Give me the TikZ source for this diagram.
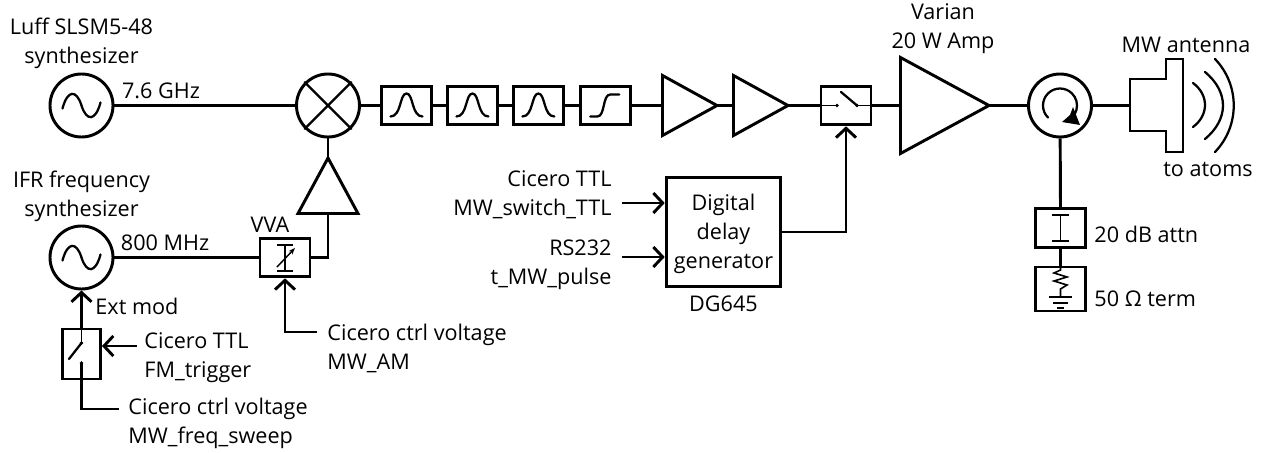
\documentclass[tikz,border=0pt]{standalone}
\usepackage{fontspec}
\setmainfont{Open Sans}
\usetikzlibrary{positioning,arrows.meta}
\newcommand{\lblfont}{\fontsize{16.2}{21.75}\selectfont}
\begin{document}
\begin{tikzpicture}[x=0.75pt, y=-0.75pt, font=\lblfont, line width=2.2pt,
    feed/.style={draw=black, line width=2.2pt},
    sig/.style={feed, -{Straight Barb[length=7pt,width=15pt]}},
    icon/.style={line width=1.7pt, line cap=round},
    hair/.style={line width=0.8pt},
    round1/.style={draw, circle, line width=2.2pt, minimum size=47.25pt, inner sep=0pt},
    filt/.style={draw, line width=2.2pt, minimum width=37.5pt, minimum height=29pt, inner sep=0pt},
    lbl/.style={align=center, inner sep=0pt},
    lbll/.style={align=left, inner sep=0pt, anchor=west},
    lblr/.style={align=right, inner sep=0pt, anchor=east}]
    \useasboundingbox (0,0) rectangle (1261,453);
    % sources and mixer
    \node[round1] (lo) at (81.5,105.5) {};
    \node[round1] (mix) at (328,105.5) {};
    \node[round1] (ifr) at (81.5,257.5) {};
    \draw[icon] (mix.45) -- (mix.225) (mix.135) -- (mix.315);
    \foreach \s in {lo,ifr}
      \draw[icon, shift={(\s)}] (-19,3) .. controls (-14,-16) and (-5,-16) .. (0,0) .. controls (5,16) and (14,16) .. (19,-3);
    % filter chain
    \node[filt] (fA) at (406.5,105.5) {};
    \node[filt, right=9.75pt of fA] (fB) {};
    \node[filt, right=9.75pt of fB] (fC) {};
    \node[filt, right=10.5pt of fC] (fD) {};
    \foreach \f in {fA,fB,fC}
      \draw[icon, shift={(\f)}] (-16,11) .. controls (-5,11) and (-7,-12) .. (0,-12) .. controls (7,-12) and (5,11) .. (16,11);
    \draw[icon, shift={(fD)}] (-15,11) -- (-8,11) .. controls (0,11) and (-3,-11) .. (5,-11) -- (14,-11);
    % amplifiers
    \foreach \a/\x/\l/\h in {ampA/662.5/54.5/30, ampB/733.5/54.5/30, ampC/900.5/88.5/48} {
      \coordinate (\a in) at (\x,105.5);
      \coordinate (\a out) at (\x+\l,105.5);
      \draw[feed, line join=miter] (\x,105.5-\h) -- (\a out) -- (\x,105.5+\h) -- cycle;
    }
    \coordinate (ampDin) at (328,213.5);
    \coordinate (ampDout) at (328,158);
    \draw[feed, line join=miter] (298,213.5) -- (ampDout) -- (358,213.5) -- cycle;
    % switch and VVA
    \node[filt] (swMW) at (846,105.5) {};
    \draw[hair] (swMW.west) -- (837,105.5) (857,105.5) -- (swMW.east);
    \fill (837,105.5) circle (1.8) (857,105.5) circle (1.8);
    \draw[icon] (857,105.5) -- (841,92);
    \node[filt] (vva) at (285,257.5) {};
    \draw[line width=1.1pt] (285,245) -- (285,271) (277,245) -- (293,245) (277,271) -- (293,271);
    \draw[line width=1.1pt, -{Stealth[length=5pt]}] (277,267) -- (295,248);
    \node[draw, line width=2.2pt, minimum width=28.5pt, minimum height=37.5pt, inner sep=0pt] (swFM) at (81.5,354) {};
    \fill (81.5,343) circle (1.8) (81.5,363) circle (1.8);
    \draw[icon] (81.5,343) -- (69,359);
    \draw[hair] (81.5,328) -- (81.5,343);
    % delay generator
    \node[draw, line width=2.2pt, minimum width=86pt, minimum height=82pt, inner sep=0pt] (dg) at (723.5,232) {};
    \node[lbl] (dgtxt) at (723.5,234) {Digital\\delay\\generator};
    \node[lbl] (dgname) at (723.5,304) {DG645};
    % circulator and horn
    \node[round1] (circ) at (1060,105.5) {};
    \draw[icon] (1060,105.5) ++(135:17) arc (135:430:17);
    \fill (1062,122) -- (1080,125) -- (1073,107) -- (1070,115) -- cycle;
    \coordinate (hornfeed) at (1130,105.5);
    \draw[feed, line join=miter] (1130,79) -- (1166,79) -- (1166,59) -- (1183,59) -- (1183,152) -- (1166,152) -- (1166,131) -- (1130,131) -- cycle;
    \draw[icon] (1193,83) .. controls (1209,95) and (1209,115) .. (1193,127);
    \draw[icon] (1205,72) .. controls (1229,92) and (1229,119) .. (1205,139);
    \draw[icon] (1215,59) .. controls (1240,85) and (1240,126) .. (1215,152);
    % attenuator and termination
    \node[filt] (att) at (1060.5,228) {};
    \node[filt, minimum height=33pt] (term) at (1060.5,289) {};
    \draw[line width=1.1pt] (1060.5,215) -- (1060.5,241) (1052,215) -- (1069,215) (1052,241) -- (1069,241);
    \draw[line width=1.2pt, line join=miter] (term.north) -- (1060.5,270) -- (1054,273) -- (1067,277) -- (1054,281) -- (1067,285) -- (1060.5,289) -- (1060.5,297);
    \draw[line width=1.2pt] (1049,297) -- (1072,297) (1053,303) -- (1068,303) (1057,308) -- (1064,308);
    % connectors
    \coordinate (ttlIn) at (137,346);
    \coordinate (fmOut) at (119,409);
    \coordinate (amIn) at (317,332);
    \coordinate (swIn) at (622,203);
    \coordinate (rsIn) at (622,257);
    \draw[feed] (lo) -- (mix);
    \draw[feed] (mix) -- (fA);
    \draw[feed] (fA) -- (fB);
    \draw[feed] (fB) -- (fC);
    \draw[feed] (fC) -- (fD);
    \draw[feed] (fD) -- (ampAin);
    \draw[feed] (ampAout) -- (ampBin);
    \draw[feed] (ampBout) -- (swMW);
    \draw[feed] (swMW) -- (ampCin);
    \draw[feed] (ampCout) -- (circ);
    \draw[feed] (circ) -- (hornfeed);
    \draw[feed] (circ) -- (att.north);
    \draw[feed] (att.south) -- (term.north);
    \draw[feed] (mix) -- (ampDout);
    \draw[feed] (ifr) -- (vva);
    \draw[feed] (vva) -| (ampDin);
    \draw[sig] (swFM.north) -- (ifr);
    \draw[sig] (ttlIn) -- (ttlIn -| swFM.east);
    \draw[feed] (fmOut) -| (81.5,363);
    \draw[sig] (amIn) -| (vva.south);
    \draw[sig] (swIn) -- (swIn -| dg.west);
    \draw[sig] (rsIn) -- (rsIn -| dg.west);
    \draw[sig] (dg.east) -| (swMW.south);
    % labels
    \node[lbl] (lbLuff) at (81.5,43) {Luff SLSM5-48\\synthesizer};
    \node[lbl] (lbIfr) at (81.5,196) {IFR frequency\\synthesizer};
    \node[lbl] (lbLo) at (161,91) {7.6 GHz};
    \node[lbl] (lbMhz) at (165,243) {800 MHz};
    \node[lbl] (lbVva) at (270,225) {VVA};
    \node[lbll] (lbExt) at (94,306) {Ext mod};
    \node[lbll] (lbFm) at (143,358) {Cicero TTL\\FM\_trigger};
    \node[lbll] (lbSweep) at (127,423.5) {Cicero ctrl voltage\\MW\_freq\_sweep};
    \node[lbll] (lbAm) at (326,348) {Cicero ctrl voltage\\MW\_AM};
    \node[lblr] (lbSw) at (613,195) {Cicero TTL\\MW\_switch\_TTL};
    \node[lblr] (lbRs) at (613,265) {RS232\\t\_MW\_pulse};
    \node[lbl] (lbVar) at (943,29) {Varian\\20 W Amp};
    \node[lbl] (lbAnt) at (1186,45) {MW antenna};
    \node[lbl] (lbAtoms) at (1208,169) {to atoms};
    \node[lbll] (lbAtt) at (1093,234) {20 dB attn};
    \node[lbll] (lbTerm) at (1093,299) {50 Ω term};
\end{tikzpicture}
\end{document}
